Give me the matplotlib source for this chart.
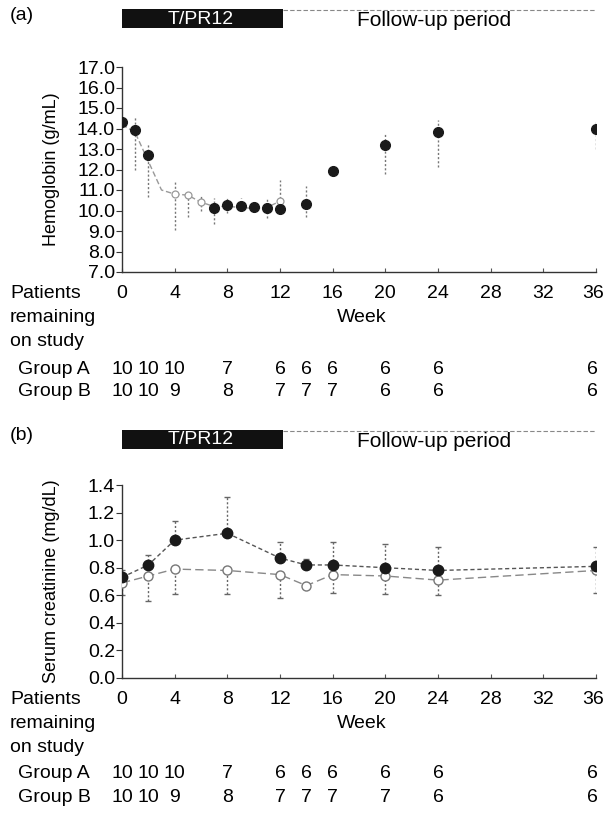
import numpy as np
import matplotlib.pyplot as plt
from matplotlib.transforms import blended_transform_factory
from matplotlib.patches import Rectangle

plt.rcParams['font.family'] = ['Liberation Sans', 'DejaVu Sans']

week_ticks = [0, 4, 8, 12, 16, 20, 24, 28, 32, 36]

# patients remaining on study
count_weeks = [0, 2, 4, 8, 12, 14, 16, 20, 24, 36]
hb_count_a = [10, 10, 10, 7, 6, 6, 6, 6, 6, 6]
hb_count_b = [10, 10, 9, 8, 7, 7, 7, 6, 6, 6]
cr_count_a = [10, 10, 10, 7, 6, 6, 6, 6, 6, 6]
cr_count_b = [10, 10, 9, 8, 7, 7, 7, 7, 6, 6]

# (a) hemoglobin
hb_weeks_a = [0, 1, 2, 7, 8, 9, 10, 11, 12, 14, 16, 20, 24, 36]
hb_a = [14.3, 13.95, 12.7, 10.1, 10.25, 10.2, 10.15, 10.1, 10.05, 10.3, 11.95, 13.2, 13.85, 14.0]
hb_weeks_b = [0, 1, 2, 3, 4, 5, 6, 7, 8, 9, 10, 11, 12]
hb_b = [14.2, 13.8, 12.4, 11.0, 10.8, 10.75, 10.4, 10.2, 10.2, 10.15, 10.1, 10.15, 10.45]
hb_err_weeks = [1, 2, 4, 5, 6, 7, 8, 9, 11, 12, 14, 16, 20, 24, 36]
hb_err_lo = [12.0, 10.65, 9.05, 9.7, 10.0, 9.35, 9.9, 10.0, 9.65, 10.0, 9.7, 11.8, 11.8, 12.1, 13.0]
hb_err_hi = [14.55, 13.3, 11.5, 10.6, 10.75, 10.6, 10.6, 10.6, 10.6, 11.5, 11.2, 12.1, 13.8, 14.4, 14.3]

# (b) serum creatinine
cr_weeks = [0, 2, 4, 8, 12, 14, 16, 20, 24, 36]
cr_a = [0.73, 0.82, 1.0, 1.05, 0.87, 0.82, 0.82, 0.80, 0.78, 0.81]
cr_a_hi = [0.78, 0.89, 1.14, 1.31, 0.99, 0.86, 0.99, 0.97, 0.95, 0.95]
cr_b = [0.69, 0.74, 0.79, 0.78, 0.75, 0.67, 0.75, 0.74, 0.71, 0.78]
cr_b_lo = [0.60, 0.56, 0.61, 0.61, 0.58, 0.67, 0.62, 0.61, 0.60, 0.62]

W, H = 605, 827
FS = 14
fig = plt.figure(figsize=(W / 100, H / 100), dpi=100)


def fy(px):
    return 1 - px / H


def setup(ax, rows_y, counts_a, counts_b, label, letter, letter_y):
    for s in ['top', 'right']:
        ax.spines[s].set_visible(False)
    for s in ['left', 'bottom']:
        ax.spines[s].set_color('#333333')
        ax.spines[s].set_linewidth(1.0)
    ax.set_xlim(0, 36)
    ax.set_xticks(week_ticks)
    ax.set_xticklabels([])
    ax.tick_params(axis='x', direction='in', length=3, color='#555555')
    ax.tick_params(axis='y', direction='out', length=4, labelsize=FS, pad=1, color='#333333')
    ax.set_ylabel(label, fontsize=13)
    ax.yaxis.set_label_coords(-0.13, 0.5)

    tr = blended_transform_factory(ax.transData, fig.transFigure)
    for w in week_ticks:
        # last label sits right at the figure edge in the original
        xpos = w - 0.25 if w == 36 else w
        ax.text(xpos, fy(rows_y[0]), str(w), transform=tr, ha='center', va='center', fontsize=FS)
    fig.text(10 / W, fy(rows_y[0]), 'Patients', ha='left', va='center', fontsize=FS)
    fig.text(10 / W, fy(rows_y[1]), 'remaining', ha='left', va='center', fontsize=FS)
    fig.text(10 / W, fy(rows_y[2]), 'on study', ha='left', va='center', fontsize=FS)
    ax.text(18.2, fy(rows_y[1]), 'Week', transform=tr, ha='center', va='center', fontsize=FS)
    fig.text(18 / W, fy(rows_y[3]), 'Group A', ha='left', va='center', fontsize=FS)
    fig.text(18 / W, fy(rows_y[4]), 'Group B', ha='left', va='center', fontsize=FS)
    for w, a, b in zip(count_weeks, counts_a, counts_b):
        xpos = w - 0.25 if w == 36 else w
        ax.text(xpos, fy(rows_y[3]), str(a), transform=tr, ha='center', va='center', fontsize=FS)
        ax.text(xpos, fy(rows_y[4]), str(b), transform=tr, ha='center', va='center', fontsize=FS)

    # treatment bar and follow-up header
    ax.add_patch(Rectangle((0, fy(letter_y + 13)), 12.2, 19 / H, transform=tr,
                           facecolor='#111111', edgecolor='none', clip_on=False))
    ax.text(6, fy(letter_y + 4), 'T/PR12', transform=tr, color='white', ha='center',
            va='center', fontsize=14)
    ax.plot([12.2, 36], [fy(letter_y - 5), fy(letter_y - 5)], transform=tr, color='#888888',
            lw=0.8, ls=(0, (4, 2)), clip_on=False)
    ax.text(23.7, fy(letter_y + 5), 'Follow-up period', transform=tr, ha='center',
            va='center', fontsize=15)
    fig.text(10 / W, fy(letter_y), letter, ha='left', va='center', fontsize=FS)


# panel (a)
ax1 = fig.add_axes([122 / W, fy(272), (596 - 122) / W, (272 - 67) / H])
ax1.set_ylim(7, 17)
ax1.set_yticks(np.arange(7, 17.5, 1.0))
ax1.set_yticklabels(['%.1f' % v for v in np.arange(7, 17.5, 1.0)])
ax1.vlines(hb_err_weeks, hb_err_lo, hb_err_hi, colors='#777777', linestyles=(0, (1.5, 1.5)), lw=1.0)
ax1.plot(hb_weeks_b, hb_b, color='#999999', lw=1.0, ls=(0, (4, 2)), marker='o', ms=5,
         mfc='white', mec='#999999', mew=0.9, markevery=[4, 5, 6, 12], zorder=3)
ax1.plot(hb_weeks_a, hb_a, ls='none', marker='o', ms=7, color='#1a1a1a', zorder=4)
setup(ax1, [294, 318, 342, 369, 392], hb_count_a, hb_count_b, 'Hemoglobin (g/mL)', '(a)', 15)

# panel (b)
ax2 = fig.add_axes([122 / W, fy(678), (596 - 122) / W, (678 - 485) / H])
ax2.set_ylim(0, 1.4)
ax2.set_yticks(np.arange(0, 1.41, 0.2))
ax2.set_yticklabels(['%.1f' % v for v in np.arange(0, 1.41, 0.2)])
ax2.errorbar(cr_weeks, cr_a, yerr=[np.zeros(len(cr_a)), np.array(cr_a_hi) - np.array(cr_a)],
             fmt='none', ecolor='#666666', elinewidth=1.0, capsize=2)
ax2.errorbar(cr_weeks, cr_b, yerr=[np.array(cr_b) - np.array(cr_b_lo), np.zeros(len(cr_b))],
             fmt='none', ecolor='#666666', elinewidth=1.0, capsize=2)
for c in ax2.collections:
    c.set_linestyle((0, (1.5, 1.5)))
ax2.plot(cr_weeks, cr_b, color='#888888', lw=1.0, ls=(0, (6, 3)), marker='o', ms=6.5,
         mfc='white', mec='#777777', mew=1.0, zorder=3)
ax2.plot(cr_weeks, cr_a, color='#555555', lw=1.0, ls=(0, (3, 2)), marker='o', ms=7.5,
         mfc='#1a1a1a', mec='#1a1a1a', zorder=4)
setup(ax2, [699, 723, 747, 774, 797], cr_count_a, cr_count_b, 'Serum creatinine (mg/dL)', '(b)', 436)

fig.savefig('out.png', dpi=100)
